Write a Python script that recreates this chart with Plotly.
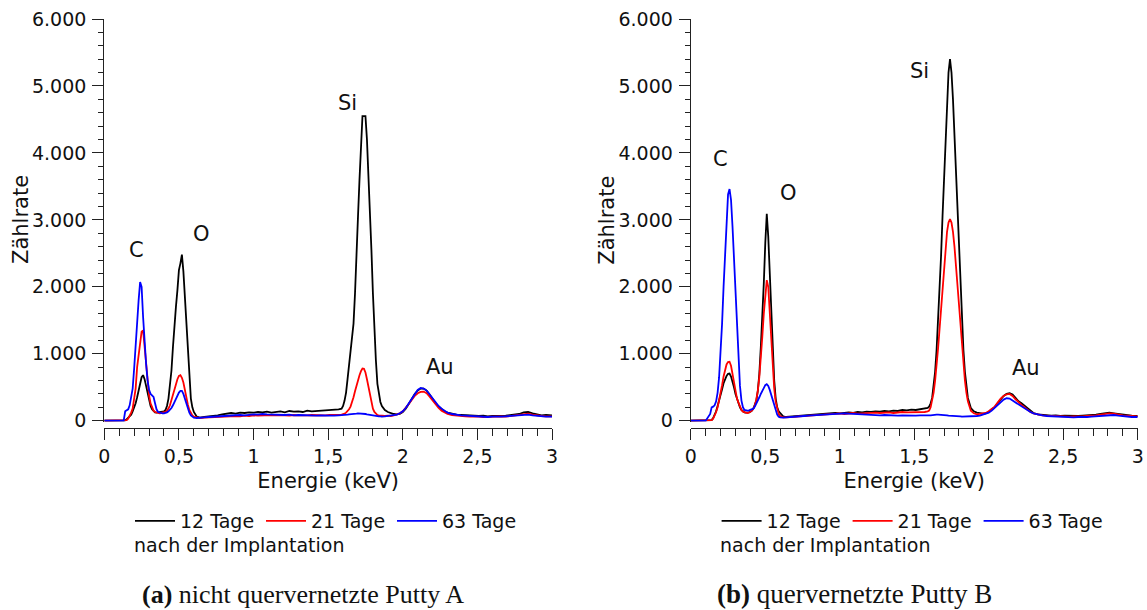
import plotly.graph_objects as go

# Energie-Raster (keV), gemeinsam für beide Spektren
energie_kev = [
    0.00, 0.05, 0.10, 0.13, 0.14, 0.15, 0.16, 0.17, 0.18, 0.19,
    0.20, 0.21, 0.22, 0.23, 0.24, 0.25, 0.26, 0.27, 0.28, 0.29,
    0.30, 0.31, 0.32, 0.33, 0.34, 0.35, 0.36, 0.37, 0.38, 0.39,
    0.40, 0.41, 0.42, 0.43, 0.44, 0.45, 0.46, 0.47, 0.48, 0.49,
    0.50, 0.51, 0.52, 0.53, 0.54, 0.55, 0.56, 0.57, 0.58, 0.59,
    0.60, 0.62, 0.64, 0.67, 0.70, 0.73, 0.76, 0.79, 0.82, 0.85,
    0.88, 0.91, 0.94, 0.97, 1.00, 1.03, 1.06, 1.09, 1.12, 1.15,
    1.18, 1.21, 1.24, 1.27, 1.30, 1.33, 1.36, 1.39, 1.42, 1.45,
    1.48, 1.51, 1.54, 1.57, 1.59, 1.60, 1.61, 1.62, 1.63, 1.64,
    1.65, 1.66, 1.67, 1.68, 1.69, 1.70, 1.71, 1.72, 1.73, 1.74,
    1.75, 1.76, 1.77, 1.78, 1.79, 1.80, 1.81, 1.82, 1.83, 1.84,
    1.85, 1.86, 1.88, 1.90, 1.92, 1.94, 1.96, 1.98, 2.00, 2.02,
    2.04, 2.06, 2.08, 2.10, 2.12, 2.14, 2.16, 2.18, 2.20, 2.22,
    2.24, 2.26, 2.28, 2.30, 2.33, 2.36, 2.39, 2.42, 2.45, 2.48,
    2.51, 2.54, 2.57, 2.60, 2.63, 2.66, 2.69, 2.72, 2.75, 2.78,
    2.81, 2.84, 2.87, 2.90, 2.93, 2.96, 3.00,
]

# (a) nicht quervernetzte Putty A – Zählrate
putty_a_12_tage = [
    0, 0, 0, 0, 5, 20, 40, 60, 90, 140,
    190, 260, 350, 450, 560, 650, 680, 620, 520, 400,
    300, 220, 170, 140, 125, 120, 125, 120, 125, 130,
    140, 160, 220, 330, 500, 750, 1100, 1450, 1700, 1950,
    2250, 2350, 2480, 2230, 1850, 1450, 1000, 620, 330, 200,
    130, 60, 45, 55, 60, 70, 80, 95, 110, 115,
    105, 120, 115, 125, 120, 130, 125, 135, 120, 130,
    140, 125, 145, 135, 140, 130, 150, 140, 145, 155,
    150, 160, 165, 170, 180, 220, 300, 420, 620, 850,
    1050, 1250, 1450, 1900, 2600, 3050, 3600, 4200, 4550, 4550,
    4550, 4200, 3700, 3150, 2550, 1900, 1350, 900, 550, 380,
    280, 220, 160, 130, 110, 100, 95, 100, 130, 180,
    250, 330, 400, 450, 480, 480, 450, 390, 320, 260,
    210, 170, 140, 120, 100, 90, 85, 80, 75, 80,
    70, 75, 65, 70, 65, 70, 75, 80, 90, 100,
    125, 130, 110, 90, 80, 85, 80,
]
putty_a_21_tage = [
    0, 0, 0, 0, 0, 10, 30, 70, 120, 180,
    300, 480, 800, 1000, 1220, 1330, 1350, 1100, 800, 540,
    380, 260, 190, 150, 130, 120, 115, 110, 115, 120,
    125, 130, 150, 180, 230, 300, 380, 450, 540, 620,
    670, 680, 640, 570, 450, 330, 240, 160, 110, 80,
    60, 45, 40, 45, 50, 55, 60, 55, 60, 65,
    70, 65, 75, 70, 80, 75, 80, 75, 85, 80,
    85, 80, 75, 85, 80, 75, 80, 85, 80, 85,
    80, 85, 80, 85, 90, 95, 105, 120, 140, 170,
    210, 270, 350, 440, 530, 610, 680, 740, 780, 775,
    720, 620, 500, 370, 260, 180, 130, 100, 85, 80,
    75, 75, 70, 75, 70, 80, 90, 110, 140, 190,
    250, 310, 370, 410, 430, 435, 410, 360, 300, 240,
    190, 150, 120, 100, 85, 75, 70, 65, 60, 65,
    60, 55, 60, 55, 60, 65, 60, 70, 75, 85,
    100, 105, 90, 75, 70, 65, 65,
]
putty_a_63_tage = [
    0, 0, 0, 0, 140, 150, 170, 230, 330, 480,
    780, 1150, 1500, 1800, 2070, 2000, 1550, 1150, 850, 600,
    460, 400, 375, 355, 260, 170, 130, 120, 115, 110,
    110, 115, 125, 140, 160, 190, 230, 280, 330, 380,
    420, 445, 445, 400, 330, 250, 180, 120, 80, 55,
    45, 40, 40, 50, 55, 60, 65, 70, 75, 80,
    75, 85, 80, 90, 95, 90, 100, 95, 90, 95,
    90, 85, 90, 80, 85, 80, 75, 80, 75, 80,
    75, 80, 75, 80, 80, 85, 85, 90, 90, 95,
    95, 100, 100, 105, 105, 110, 110, 105, 105, 100,
    100, 95, 90, 85, 80, 75, 70, 70, 65, 65,
    65, 60, 65, 70, 75, 80, 90, 110, 140, 190,
    260, 340, 410, 460, 490, 480, 450, 390, 330, 270,
    220, 180, 145, 120, 100, 85, 80, 75, 70, 65,
    60, 55, 55, 60, 55, 60, 65, 70, 75, 85,
    95, 90, 80, 70, 65, 60, 60,
]

# (b) quervernetzte Putty B – Zählrate
putty_b_12_tage = [
    0, 0, 0, 0, 10, 40, 80, 140, 220, 320,
    400, 470, 560, 620, 670, 700, 705, 660, 590, 500,
    400, 320, 250, 200, 160, 135, 125, 120, 120, 125,
    135, 150, 180, 230, 300, 450, 700, 1100, 1500, 2050,
    2650, 3090, 2750, 2250, 1650, 1050, 600, 330, 200, 140,
    120, 65, 55, 60, 65, 70, 80, 85, 90, 100,
    105, 100, 110, 115, 110, 120, 125, 115, 130, 125,
    135, 130, 140, 135, 145, 140, 150, 145, 160, 155,
    165, 160, 170, 175, 190, 210, 260, 340, 500, 730,
    1060, 1460, 1920, 2460, 3060, 3660, 4250, 4800, 5200, 5400,
    5200, 4800, 4250, 3660, 3060, 2460, 1920, 1460, 1060, 730,
    500, 340, 190, 140, 120, 110, 105, 110, 130, 170,
    200, 260, 320, 370, 400, 410, 390, 340, 290, 260,
    220, 180, 140, 115, 95, 85, 80, 75, 80, 70,
    75, 70, 75, 70, 75, 80, 75, 90, 100, 115,
    120, 110, 100, 85, 80, 75, 70,
]
putty_b_21_tage = [
    0, 0, 0, 0, 10, 30, 70, 130, 200, 300,
    400, 530, 660, 760, 840, 875, 880, 820, 700, 560,
    430, 330, 270, 200, 160, 135, 125, 115, 115, 120,
    130, 150, 180, 230, 320, 450, 650, 920, 1250, 1600,
    1930, 2100, 2000, 1650, 1200, 800, 480, 280, 160, 100,
    70, 50, 50, 55, 60, 65, 70, 75, 85, 90,
    95, 100, 95, 105, 110, 100, 110, 115, 105, 110,
    115, 110, 120, 115, 120, 125, 115, 125, 130, 125,
    125, 130, 125, 130, 140, 150, 200, 290, 420, 600,
    820, 1080, 1370, 1680, 2000, 2320, 2600, 2820, 2960, 3010,
    2960, 2820, 2600, 2320, 2000, 1680, 1370, 1080, 820, 600,
    420, 290, 150, 110, 95, 100, 105, 115, 140, 170,
    210, 270, 330, 370, 395, 400, 370, 320, 270, 235,
    200, 165, 130, 110, 90, 80, 75, 70, 65, 70,
    65, 60, 65, 60, 65, 70, 70, 80, 90, 100,
    110, 105, 90, 80, 75, 70, 65,
]
putty_b_63_tage = [
    0, 0, 0, 100, 200, 210, 230, 290, 420, 650,
    1000, 1450, 2000, 2550, 3050, 3380, 3460, 3300, 2900, 2450,
    1950, 1400, 900, 520, 300, 200, 160, 150, 150, 155,
    160, 165, 180, 210, 250, 300, 350, 400, 450, 500,
    530, 545, 520, 460, 380, 290, 210, 140, 90, 60,
    50, 45, 50, 55, 60, 65, 70, 75, 80, 85,
    90, 95, 100, 105, 110, 110, 105, 100, 95, 90,
    90, 85, 85, 80, 85, 80, 80, 75, 80, 75,
    80, 75, 80, 75, 80, 80, 80, 85, 85, 85,
    90, 90, 90, 85, 85, 80, 80, 80, 75, 75,
    75, 70, 70, 70, 65, 65, 65, 60, 60, 60,
    60, 60, 60, 65, 70, 75, 90, 100, 120, 150,
    190, 240, 280, 315, 335, 330, 300, 270, 245, 220,
    190, 160, 130, 110, 90, 80, 70, 65, 60, 60,
    55, 55, 50, 55, 50, 55, 60, 65, 75, 85,
    90, 85, 75, 65, 60, 55, 55,
]

reihen_namen = ["12 Tage", "21 Tage", "63 Tage"]
reihen_farben = ["#000000", "#ff0000", "#0000ff"]

peak_namen = ["C", "O", "Si", "Au"]
peak_pos_a = [(0.219, 2550), (0.648, 2790), (1.632, 4750), (2.248, 800)]
peak_pos_b = [(0.201, 3910), (0.658, 3400), (1.538, 5225), (2.250, 790)]

W, H = 1147, 610
TEXT = "#111111"


def fx(p):
    return p / W


def fy(p):
    return 1 - p / H


for serie in (putty_a_12_tage, putty_a_21_tage, putty_a_63_tage,
              putty_b_12_tage, putty_b_21_tage, putty_b_63_tage):
    assert len(serie) == len(energie_kev)

fig = go.Figure()

panels = [
    ("x", "y", "legend", [putty_a_12_tage, putty_a_21_tage, putty_a_63_tage]),
    ("x2", "y2", "legend2", [putty_b_12_tage, putty_b_21_tage, putty_b_63_tage]),
]
for xa, ya, leg, serien in panels:
    for name, farbe, werte in zip(reihen_namen, reihen_farben, serien):
        fig.add_trace(go.Scatter(
            x=energie_kev, y=werte, mode="lines", name=name,
            line=dict(color=farbe, width=1.8),
            xaxis=xa, yaxis=ya, legend=leg,
        ))

ACHSE = "#222222"
x_basis = dict(
    range=[0, 3], tick0=0, dtick=0.5, automargin=False,
    showline=True, linecolor=ACHSE, linewidth=1.3,
    ticks="outside", ticklen=11, tickwidth=1.3, tickcolor=ACHSE,
    minor=dict(tick0=0, dtick=0.1, ticks="outside", ticklen=7,
               tickwidth=1.3, tickcolor=ACHSE),
    showgrid=False, zeroline=False,
    tickfont=dict(size=19),
    title=dict(text="Energie (keV)", font=dict(size=21), standoff=7),
    anchor="free", position=fy(427.7),
)
y_basis = dict(
    range=[-15, 6000], tick0=0, dtick=1000, tickformat=",d",
    automargin=False, ticklabelstandoff=2,
    showline=True, linecolor=ACHSE, linewidth=1.3,
    ticks="outside", ticklen=11, tickwidth=1.3, tickcolor=ACHSE,
    minor=dict(tick0=0, dtick=200, ticks="outside", ticklen=5,
               tickwidth=1.3, tickcolor=ACHSE),
    showgrid=False, zeroline=False,
    tickfont=dict(size=19),
    domain=[fy(421.7), fy(19)],
)

legend_basis = dict(
    orientation="h", xanchor="left", yanchor="middle", y=fy(521),
    font=dict(size=19), bgcolor="rgba(0,0,0,0)", itemwidth=40,
    entrywidth=76, entrywidthmode="pixels",
)

annotations = []
for name, (ex, ez) in zip(peak_namen, peak_pos_a):
    annotations.append(dict(x=ex, y=ez, xref="x", yref="y", text=name,
                            showarrow=False, font=dict(size=21)))
for name, (ex, ez) in zip(peak_namen, peak_pos_b):
    annotations.append(dict(x=ex, y=ez, xref="x2", yref="y2", text=name,
                            showarrow=False, font=dict(size=21)))

# Titel der y-Achsen, mittig neben den Tick-Beschriftungen
for x0 in (21, 606.7):
    annotations.append(dict(x=fx(x0), y=fy(220), xref="paper", yref="paper",
                            xanchor="center", yanchor="middle",
                            showarrow=False, textangle=-90,
                            text="Zählrate", font=dict(size=21)))

for x0 in (132, 718):
    annotations.append(dict(x=fx(x0), y=fy(545), xref="paper", yref="paper",
                            xanchor="left", yanchor="middle", showarrow=False,
                            text="nach der Implantation", font=dict(size=19)))

untertitel = [
    (140, "<b>(a)</b> nicht quervernetzte Putty A", 26),
    (715, "<b>(b)</b> quervernetzte Putty B", 27),
]
for x0, text, groesse in untertitel:
    annotations.append(dict(x=fx(x0), y=fy(594), xref="paper", yref="paper",
                            xanchor="left", yanchor="middle", showarrow=False,
                            text=text,
                            font=dict(size=groesse, family="Liberation Serif",
                                      color="#111111")))

fig.update_layout(
    width=W, height=H,
    margin=dict(l=0, r=0, t=0, b=0, autoexpand=False),
    paper_bgcolor="white", plot_bgcolor="white",
    font=dict(family="DejaVu Sans", size=19, color=TEXT),
    separators=",.",
    xaxis=dict(x_basis, domain=[fx(104.3), fx(552)]),
    xaxis2=dict(x_basis, domain=[fx(690.8), fx(1137.7)]),
    yaxis=dict(y_basis, anchor="x"),
    yaxis2=dict(y_basis, anchor="x2"),
    legend=dict(legend_basis, x=fx(130)),
    legend2=dict(legend_basis, x=fx(716.6)),
    annotations=annotations,
    showlegend=True,
)

fig.write_html("out.html")
